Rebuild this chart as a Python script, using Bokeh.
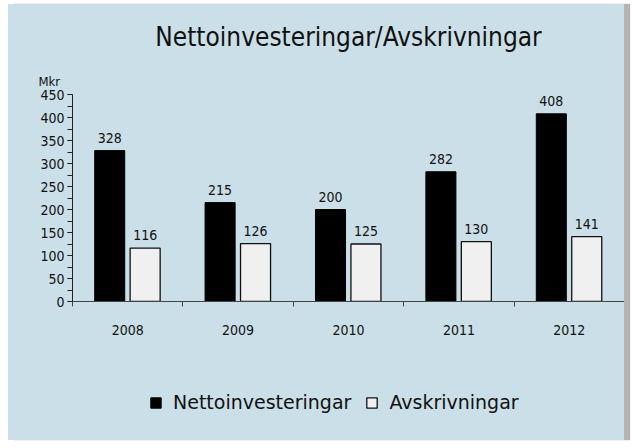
from bokeh.plotting import figure
from bokeh.models import ColumnDataSource, FixedTicker, Legend, LegendItem, Title, Spacer
from bokeh.layouts import column, row
from bokeh.transform import dodge
from bokeh.core.properties import value
from bokeh.embed import file_html
from bokeh.resources import INLINE

years = ["2008", "2009", "2010", "2011", "2012"]
netto = [328, 215, 200, 282, 408]
avskr = [116, 126, 125, 130, 141]
y_major = [0, 50, 100, 150, 200, 250, 300, 350, 400, 450]
y_minor = [0, 25, 50, 75, 100, 125, 150, 175, 200, 225, 250, 275, 300, 325, 350, 375, 400, 425, 450]
title_text = "Nettoinvesteringar/Avskrivningar"
unit_text = "Mkr"
series_names = ["Nettoinvesteringar", "Avskrivningar"]

BG = "#cbdfe8"
NUM_FONT = "DejaVu Sans Condensed"
TXT_FONT = "DejaVu Sans"
BLACK_FILL = "black"
WHITE_FILL = "#f0f0f0"
BG_STYLE = {"background-color": BG}

pos = [i + 0.5 for i in range(len(years))]
src = ColumnDataSource(dict(
    pos=pos, netto=netto, avskr=avskr,
    netto_lbl=[str(v) for v in netto], avskr_lbl=[str(v) for v in avskr],
))

p = figure(width=616, height=356, x_range=(0, len(years)), y_range=(0, 450),
           output_backend="svg", toolbar_location=None, title=None,
           min_border_left=64, min_border_right=0, min_border_top=90, min_border_bottom=59,
           background_fill_color=None, border_fill_color=None, outline_line_color=None,
           styles=BG_STYLE)
p.grid.visible = False

BW = 0.272
OFF_N = -0.163
OFF_A = 0.158
r1 = p.vbar(x=dodge("pos", OFF_N, range=p.x_range), top="netto", width=BW,
            fill_color=BLACK_FILL, line_color="black", source=src)
r2 = p.vbar(x=dodge("pos", OFF_A, range=p.x_range), top="avskr", width=BW,
            fill_color=WHITE_FILL, line_color="#111111", line_width=1.3, source=src)

for col, off in (("netto", OFF_N), ("avskr", OFF_A)):
    p.text(x=dodge("pos", off, range=p.x_range), y=col, text=col + "_lbl", source=src,
           text_align="center", text_baseline="bottom", y_offset=-8,
           text_font=value(NUM_FONT), text_font_size="14px", text_color="#111111")

# y axis
ya = p.yaxis[0]
ya.ticker = FixedTicker(ticks=y_major, minor_ticks=y_minor)
ya.major_tick_in = 0
ya.major_tick_out = 5
ya.minor_tick_in = 0
ya.minor_tick_out = 5
ya.axis_line_color = "#222222"
ya.major_tick_line_color = "#222222"
ya.minor_tick_line_color = "#222222"
ya.major_label_text_font = NUM_FONT
ya.major_label_text_font_size = "14px"
ya.major_label_text_color = "#111111"
ya.major_label_standoff = 3

# x axis
xa = p.xaxis[0]
xa.ticker = FixedTicker(ticks=pos, minor_ticks=list(range(len(years) + 1)))
xa.major_label_overrides = {pv: y for pv, y in zip(pos, years)}
xa.major_tick_line_color = None
xa.major_tick_in = 0
xa.major_tick_out = 0
xa.minor_tick_in = 0
xa.minor_tick_out = 5
xa.axis_line_color = "#444444"
xa.minor_tick_line_color = "#444444"
xa.major_label_text_font = NUM_FONT
xa.major_label_text_font_size = "14px"
xa.major_label_text_color = "#111111"
xa.major_label_standoff = 18

# unit label (closest to frame) and main title (above it)
p.add_layout(Title(text=unit_text, align="left", offset=-34, standoff=12,
                   text_font=NUM_FONT, text_font_size="13px", text_font_style="normal",
                   text_color="#111111"), "above")
p.add_layout(Title(text=title_text, align="center", standoff=28,
                   text_font=NUM_FONT, text_font_size="26px", text_font_style="normal",
                   text_color="#111111"), "above")

# legend figure (hidden renderers only supply the legend swatches)
q = figure(width=616, height=80, x_range=(0, len(years)), y_range=(0, 450),
           output_backend="svg", toolbar_location=None,
           x_axis_location=None, y_axis_location=None,
           min_border=0, background_fill_color=None, border_fill_color=None,
           outline_line_color=None, styles=BG_STYLE)
q.grid.visible = False
l1 = q.vbar(x="pos", top="netto", width=BW, fill_color=BLACK_FILL, line_color="black",
            source=src, visible=False)
l2 = q.vbar(x="pos", top="avskr", width=BW, fill_color=WHITE_FILL, line_color="#111111",
            line_width=1.3, source=src, visible=False)
legend = Legend(items=[LegendItem(label=series_names[0], renderers=[l1]),
                       LegendItem(label=series_names[1], renderers=[l2])],
                orientation="horizontal", location=(77, 27),
                background_fill_alpha=0, border_line_color=None,
                inactive_fill_alpha=0,
                label_text_font=TXT_FONT, label_text_font_size="19px", label_text_color="#111111",
                glyph_width=13, glyph_height=13, spacing=14, padding=0, margin=0,
                label_standoff=11)
q.add_layout(legend)

inner = column(p, q, spacing=0,
               styles={"background-color": BG, "box-shadow": "6px 0px 1px #b4b4b4"})
layout = column(Spacer(height=4), row(Spacer(width=8), inner))
open("out.html", "w").write(file_html(layout, INLINE))
